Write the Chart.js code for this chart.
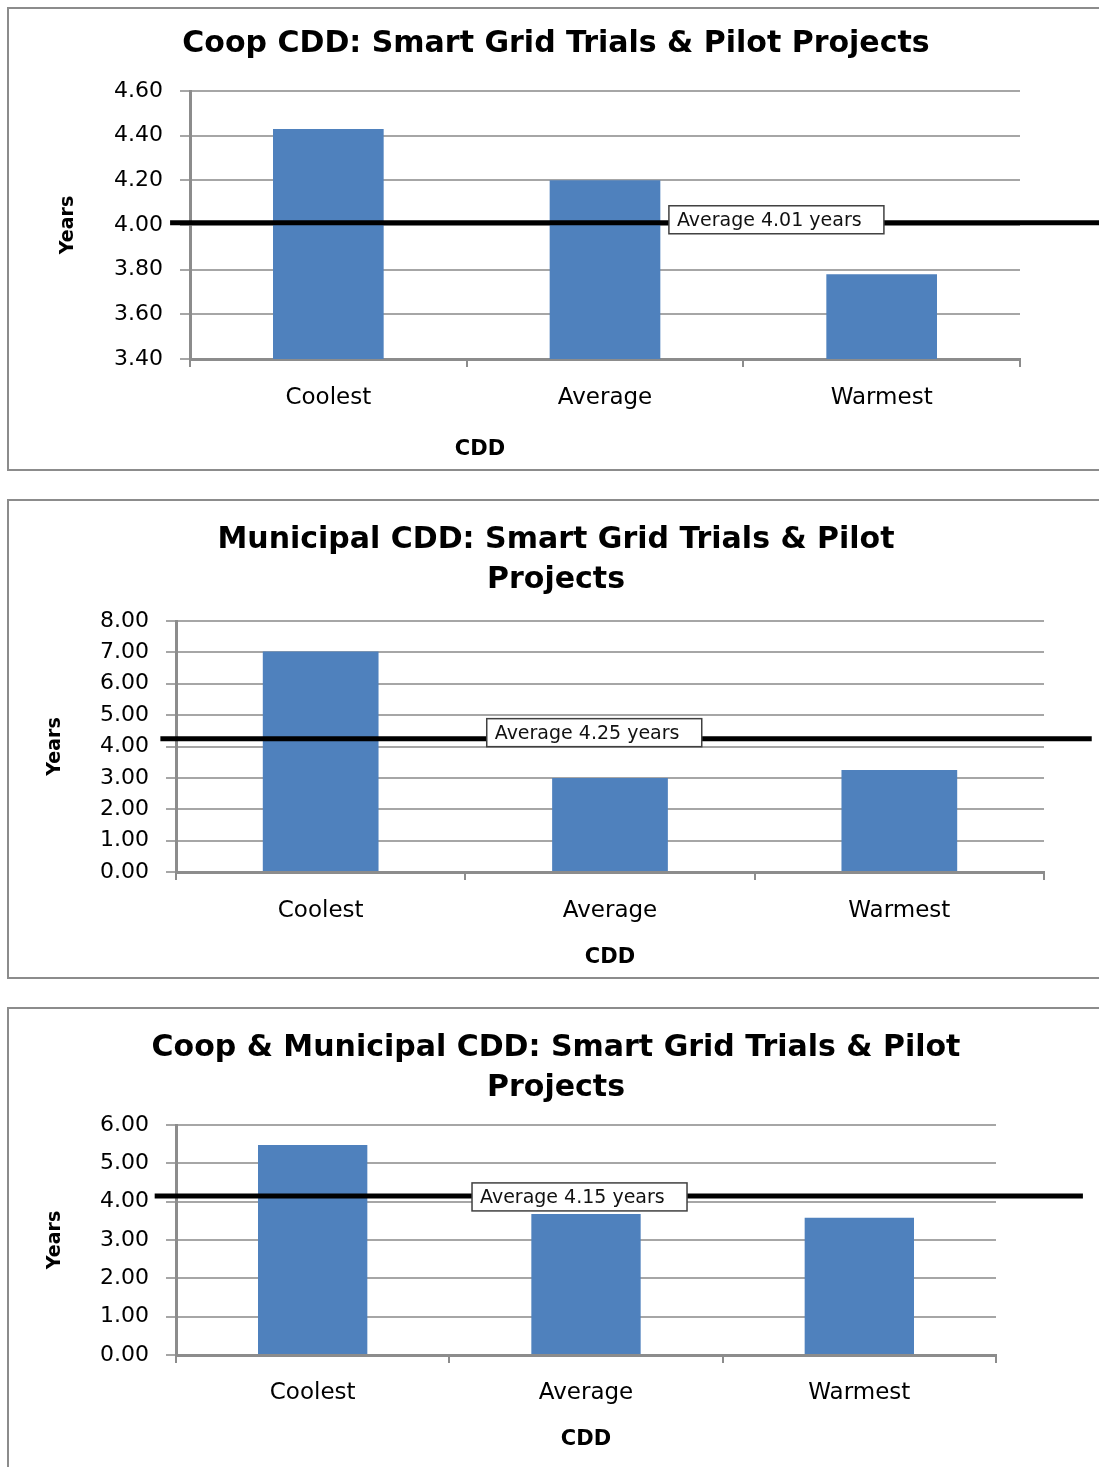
<!DOCTYPE html>
<html>
<head>
<meta charset="utf-8">
<script src="https://cdn.jsdelivr.net/npm/chart.js@4"></script>
<style>
  html, body { margin: 0; padding: 0; background: #fff; overflow: hidden; width: 1099px; height: 1467px; }
  .panel { position: absolute; left: 7px; border: 2px solid #8c8c8c; border-right: none; }
  canvas { display: block; }
</style>
</head>
<body>
<div class="panel" style="top:7px"><canvas id="coop" width="1094" height="460"></canvas></div>
<div class="panel" style="top:499px"><canvas id="municipal" width="1094" height="476"></canvas></div>
<div class="panel" style="top:1007px"><canvas id="combined" width="1094" height="458"></canvas></div>

<script>
// data
const categories = ["Coolest", "Average", "Warmest"];

const coopYears = [4.43, 4.2, 3.78];
const municipalYears = [7.03, 3.0, 3.25];
const combinedYears = [5.48, 3.68, 3.58];

const coopAverage = 4.01;
const municipalAverage = 4.25;
const combinedAverage = 4.15;

const coopTicks = [3.4, 3.6, 3.8, 4.0, 4.2, 4.4, 4.6];
const municipalTicks = [0, 1, 2, 3, 4, 5, 6, 7, 8];
const combinedTicks = [0, 1, 2, 3, 4, 5, 6];

Chart.defaults.font.family = "'DejaVu Sans', sans-serif";
Chart.defaults.color = "#000";

// white "Average x years" box on the average line, plus the CDD axis title
const averageBox = {
  id: "averageBox",
  afterDraw(chart, args, opts) {
    const ctx = chart.ctx;
    const area = chart.chartArea;
    const y = chart.scales.y.getPixelForValue(opts.average);
    const bx = area.left + area.width * opts.boxAt;
    const by = y + opts.boxShift - 14;
    ctx.save();
    ctx.fillStyle = "#fff";
    ctx.fillRect(bx, by, 215, 28);
    ctx.strokeStyle = "#404040";
    ctx.lineWidth = 1.5;
    ctx.strokeRect(bx, by, 215, 28);
    ctx.fillStyle = "#111";
    ctx.font = "19px 'DejaVu Sans'";
    ctx.textBaseline = "middle";
    ctx.fillText("Average " + opts.average.toFixed(2) + " years", bx + 8, by + 15);

    ctx.font = "bold 21px 'DejaVu Sans'";
    ctx.textAlign = "center";
    ctx.fillStyle = "#000";
    ctx.fillText("CDD", (area.left + area.right) / 2 + opts.titleShift, area.bottom + opts.titleDrop);
    ctx.restore();
  },
};

function makeChart(id, cfg) {
  return new Chart(document.getElementById(id), {
    data: {
      labels: categories,
      datasets: [
        {
          type: "line",
          order: 0,
          xAxisID: "x2",
          data: [
            { x: cfg.lineFrom, y: cfg.average },
            { x: cfg.lineTo, y: cfg.average },
          ],
          borderColor: "#000",
          borderWidth: 5,
          pointRadius: 0,
          clip: false,
        },
        {
          type: "bar",
          order: 1,
          xAxisID: "x",
          data: cfg.values,
          backgroundColor: "#4f81bd",
          grouped: false,
          barPercentage: 0.4,
          categoryPercentage: 1,
        },
      ],
    },
    options: {
      responsive: false,
      animation: false,
      events: [],
      plugins: {
        legend: { display: false },
        tooltip: { enabled: false },
        title: {
          display: true,
          text: cfg.title,
          color: "#000",
          font: { size: 30, weight: "bold", lineHeight: 40 / 30 },
          padding: { top: cfg.titleTop, bottom: cfg.titleBottom },
        },
        averageBox: {
          average: cfg.average,
          boxAt: cfg.boxAt,
          boxShift: cfg.boxShift,
          titleShift: cfg.titleShift,
          titleDrop: cfg.titleDrop,
        },
      },
      scales: {
        x: {
          type: "category",
          grid: {
            display: true,
            drawOnChartArea: false,
            offset: true,
            tickLength: 8,
            color: "#8c8c8c",
            lineWidth: 2,
          },
          border: { color: "#8c8c8c", width: 3 },
          ticks: { color: "#000", font: { size: 23 }, padding: cfg.xPad, maxRotation: 0, autoSkip: false },
          afterFit: (s) => { s.height = cfg.xHeight; },
        },
        x2: { type: "linear", display: false, min: 0, max: 1 },
        y: {
          min: cfg.ticks[0],
          max: cfg.ticks[cfg.ticks.length - 1],
          afterBuildTicks: (s) => { s.ticks = cfg.ticks.map((v) => ({ value: v })); },
          grid: { color: "#a6a6a6", lineWidth: 2, tickLength: 10 },
          border: { color: "#8c8c8c", width: 3 },
          ticks: { color: "#000", font: { size: 22 }, padding: 17, callback: (v) => Number(v).toFixed(2) },
          title: {
            display: true,
            text: "Years",
            color: "#000",
            font: { size: 19, weight: "bold" },
            padding: { top: cfg.yTitlePad, bottom: 0 },
          },
          afterFit: (s) => { s.width = cfg.yWidth; },
        },
        yPad: {
          type: "linear",
          position: "right",
          grid: { display: false },
          border: { display: false },
          ticks: { display: false },
          afterFit: (s) => { s.width = cfg.padRight; },
        },
      },
    },
    plugins: [averageBox],
  });
}

makeChart("coop", {
  title: "Coop CDD: Smart Grid Trials & Pilot Projects",
  values: coopYears,
  average: coopAverage,
  ticks: coopTicks,
  titleTop: 15, titleBottom: 27,
  yWidth: 181, padRight: 83, xHeight: 110, xPad: 17,
  yTitlePad: 47.6,
  lineFrom: -0.024, lineTo: 1.1,
  boxAt: 0.577, boxShift: -3,
  titleShift: -125, titleDrop: 91,
});

makeChart("municipal", {
  title: ["Municipal CDD: Smart Grid Trials & Pilot", "Projects"],
  values: municipalYears,
  average: municipalAverage,
  ticks: municipalTicks,
  titleTop: 19, titleBottom: 21,
  yWidth: 167, padRight: 59, xHeight: 105, xPad: 17,
  yTitlePad: 34.6,
  lineFrom: -0.018, lineTo: 1.055,
  boxAt: 0.358, boxShift: -6,
  titleShift: 0, titleDrop: 86,
});

makeChart("combined", {
  title: ["Coop & Municipal CDD: Smart Grid Trials & Pilot", "Projects"],
  values: combinedYears,
  average: combinedAverage,
  ticks: combinedTicks,
  titleTop: 19, titleBottom: 17,
  yWidth: 167, padRight: 107, xHeight: 112, xPad: 16,
  yTitlePad: 34.6,
  lineFrom: -0.026, lineTo: 1.106,
  boxAt: 0.361, boxShift: 1,
  titleShift: 0, titleDrop: 85,
});
</script>
</body>
</html>
